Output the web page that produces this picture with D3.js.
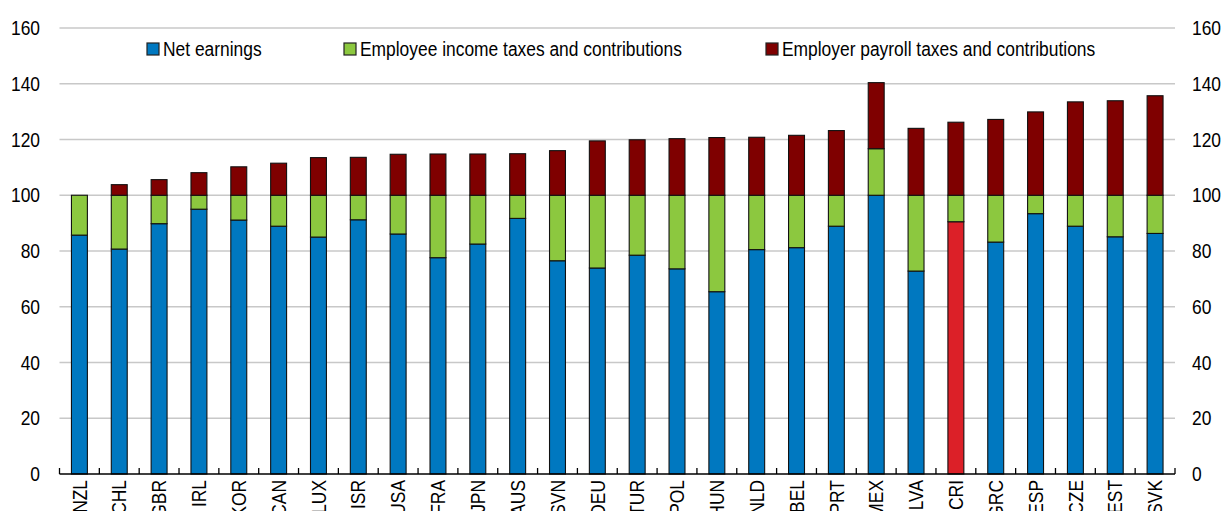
<!DOCTYPE html>
<html>
<head>
<meta charset="utf-8">
<script src="https://cdn.jsdelivr.net/npm/d3@7"></script>
<style>
  body { margin: 0; background: #fff; }
  svg text { font-family: 'Liberation Sans Narrow', 'Arial Narrow', 'Liberation Sans', Arial, sans-serif; fill: #000; }
</style>
</head>
<body>
<div id="chart"></div>
<script>
// data
const countries = ['NZL', 'CHL', 'GBR', 'IRL', 'KOR', 'CAN', 'LUX', 'ISR', 'USA', 'FRA', 'JPN', 'AUS', 'SVN', 'DEU',
  'TUR', 'POL', 'HUN', 'NLD', 'BEL', 'PRT', 'MEX', 'LVA', 'CRI', 'GRC', 'ESP', 'CZE', 'EST', 'SVK']
const netEarnings = [85.7, 80.7, 89.8, 95.0, 91.1, 88.9, 85.0, 91.2, 86.1, 77.6, 82.5, 91.7, 76.5, 73.9,
  78.5, 73.6, 65.4, 80.5, 81.2, 88.9, 100.0, 72.8, 90.5, 83.2, 93.4, 88.9, 85.1, 86.3]
const employeeTaxes = [14.3, 19.3, 10.2, 5.0, 8.9, 11.1, 15.0, 8.8, 13.9, 22.4, 17.5, 8.3, 23.5, 26.1,
  21.5, 26.4, 34.6, 19.5, 18.8, 11.1, 16.7, 27.2, 9.5, 16.8, 6.6, 11.1, 14.9, 13.7]
const employerTaxes = [0.0, 3.8, 5.6, 8.1, 10.2, 11.5, 13.5, 13.6, 14.7, 14.8, 14.8, 14.9, 16.0, 19.5,
  19.9, 20.3, 20.7, 20.8, 21.5, 23.2, 23.7, 24.0, 26.2, 27.2, 29.9, 33.5, 33.9, 35.7]
const seriesNames = ['Net earnings', 'Employee income taxes and contributions', 'Employer payroll taxes and contributions']
const yTicks = [0, 20, 40, 60, 80, 100, 120, 140, 160]
const highlight = 'CRI'

const colors = ['#0078c0', '#8cc83f', '#7f0000']
const highlightColor = '#dc2028'

const width = 1226
const height = 511
const margin = { top: 28, left: 59.5, right: 51, bottom: 37 }
// no narrow font installed, so squeeze the text horizontally
const narrow = 'scale(0.87,1)'

const svg = d3.select('#chart')
  .append('svg')
  .attr('width', width)
  .attr('height', height)

const x = d3.scaleBand()
  .domain(countries)
  .range([margin.left, width - margin.right])
  .paddingInner(0.6)
  .paddingOuter(0.3)

const y = d3.scaleLinear()
  .domain([0, 160])
  .range([height - margin.bottom, margin.top])

// gridlines
svg.append('g')
  .selectAll('line')
  .data(yTicks.filter(d => d > 0))
  .enter().append('line')
  .attr('x1', margin.left)
  .attr('x2', width - margin.right)
  .attr('y1', d => y(d))
  .attr('y2', d => y(d))
  .attr('stroke', '#c8c8c8')
  .attr('stroke-width', 1.3)

// left and right tick labels
svg.append('g')
  .selectAll('text')
  .data(yTicks)
  .enter().append('text')
  .attr('transform', d => `translate(40,${y(d)}) ${narrow}`)
  .attr('dy', '0.35em')
  .attr('text-anchor', 'end')
  .style('font-size', '20px')
  .text(d => d)

svg.append('g')
  .selectAll('text')
  .data(yTicks)
  .enter().append('text')
  .attr('transform', d => `translate(1192,${y(d)}) ${narrow}`)
  .attr('dy', '0.35em')
  .attr('text-anchor', 'start')
  .style('font-size', '20px')
  .text(d => d)

// stacked bars
const rows = countries.map((c, i) => ({ country: c, net: netEarnings[i], employee: employeeTaxes[i], employer: employerTaxes[i] }))
const stack = d3.stack().keys(['net', 'employee', 'employer'])(rows)

svg.append('g')
  .selectAll('g')
  .data(stack)
  .enter().append('g')
  .attr('fill', (d, i) => colors[i])
  .selectAll('rect')
  .data(d => d.filter(s => s[1] - s[0] > 0))
  .enter().append('rect')
  .attr('x', d => x(d.data.country))
  .attr('width', x.bandwidth())
  .attr('y', d => y(d[1]))
  .attr('height', d => y(d[0]) - y(d[1]))
  .attr('fill', function (d) {
    let key = d3.select(this.parentNode).datum().key
    return (key == 'net' && d.data.country == highlight) ? highlightColor : null
  })
  .attr('stroke', '#111')
  .attr('stroke-width', 1.1)

// x axis line with upward ticks at band edges
const axisY = y(0)
svg.append('line')
  .attr('x1', margin.left)
  .attr('x2', width - margin.right)
  .attr('y1', axisY)
  .attr('y2', axisY)
  .attr('stroke', '#000')
  .attr('stroke-width', 1.5)

const edges = d3.range(countries.length + 1).map(i => margin.left + i * (width - margin.left - margin.right) / countries.length)
svg.append('g')
  .selectAll('line')
  .data(edges)
  .enter().append('line')
  .attr('x1', d => d)
  .attr('x2', d => d)
  .attr('y1', axisY)
  .attr('y2', axisY - 6)
  .attr('stroke', '#000')
  .attr('stroke-width', 1.3)

// rotated country labels (cut off by the bottom edge, as in the original)
svg.append('g')
  .selectAll('text')
  .data(countries)
  .enter().append('text')
  .attr('transform', d => `translate(${x(d) + x.bandwidth() / 2},${axisY + 6}) rotate(-90) ${narrow}`)
  .attr('dy', '0.36em')
  .attr('text-anchor', 'end')
  .style('font-size', '20px')
  .text(d => d)

// legend
const legendX = [147, 344, 766]
const legend = svg.append('g')
  .selectAll('g')
  .data(seriesNames)
  .enter().append('g')
  .attr('transform', (d, i) => `translate(${legendX[i]},43)`)

legend.append('rect')
  .attr('width', 12)
  .attr('height', 12)
  .attr('fill', (d, i) => colors[i])
  .attr('stroke', '#222')
  .attr('stroke-width', 1.2)

legend.append('text')
  .attr('transform', `translate(16,13) ${narrow}`)
  .style('font-size', '20px')
  .text(d => d)
</script>
</body>
</html>
